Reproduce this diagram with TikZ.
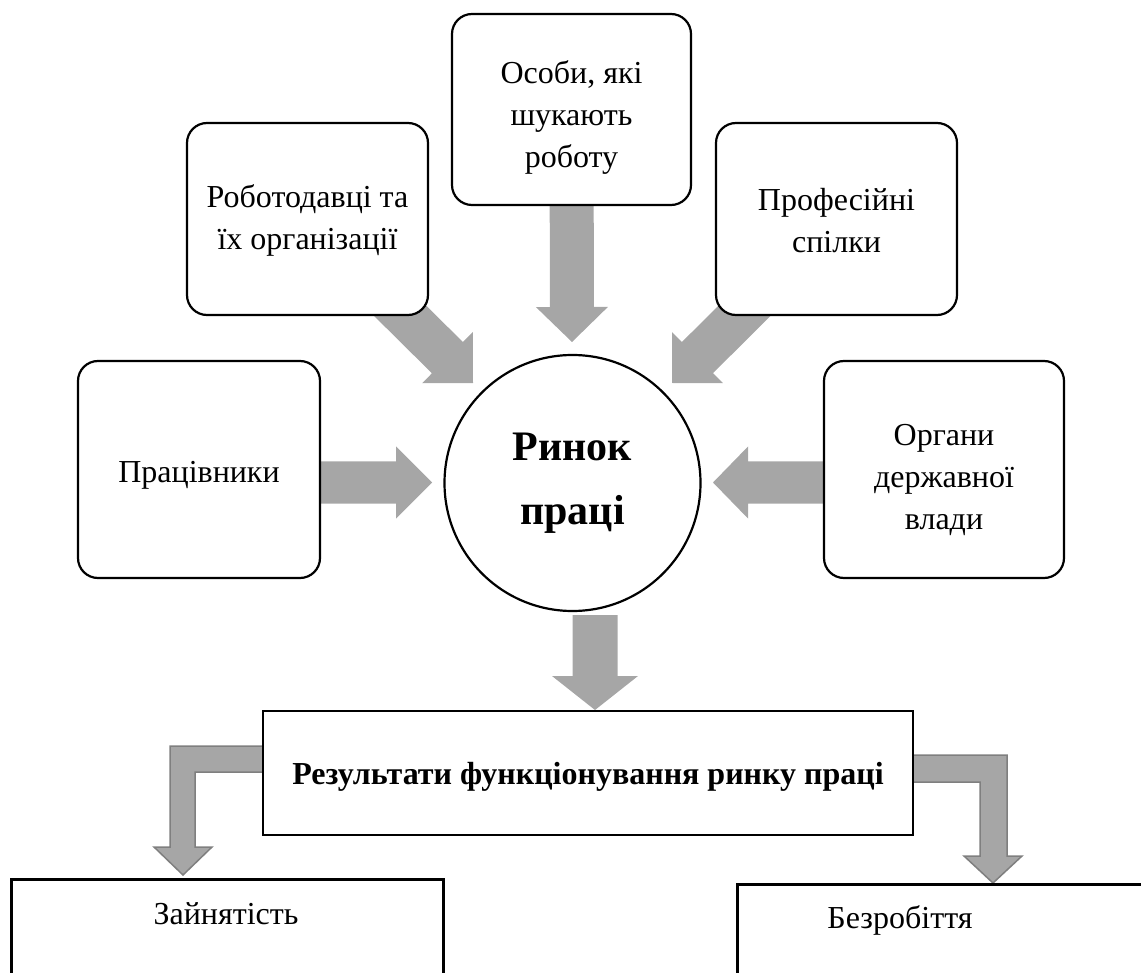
\documentclass[tikz,border=0pt]{standalone}
\usepackage{fontspec}
\setmainfont{Liberation Serif}
\usetikzlibrary{calc,backgrounds}
\definecolor{arrowgray}{RGB}{166,166,166}
\definecolor{edgegray}{RGB}{127,127,127}
% block arrow: #1 tail, #2 tip, #3 shaft half width, #4 head half width, #5 head length
\newcommand\blockarrow[5]{%
  \fill[arrowgray] let \p1=(#1), \p2=(#2), \n1={atan2(\y2-\y1,\x2-\x1)} in
    (\p2)
    -- ($(\p2)+({\n1+180}:#5pt)+({\n1+90}:#4pt)$)
    -- ($(\p2)+({\n1+180}:#5pt)+({\n1+90}:#3pt)$)
    -- ($(\p1)+({\n1+90}:#3pt)$)
    -- ($(\p1)+({\n1-90}:#3pt)$)
    -- ($(\p2)+({\n1+180}:#5pt)+({\n1-90}:#3pt)$)
    -- ($(\p2)+({\n1+180}:#5pt)+({\n1-90}:#4pt)$)
    -- cycle;}
\newcommand\lift[1]{\rule{0pt}{#1pt}}
\tikzset{
  rbox/.style={draw, line width=2.2pt, rounded corners=20pt, fill=white,
    align=center, inner sep=0pt, font=\fontsize{32}{42}\selectfont},
  sqbox/.style={draw, line width=2.2pt, fill=white, inner sep=0pt},
  plain/.style={font=\fontsize{32}{42}\selectfont, inner sep=0pt},
  elbow/.style={fill=arrowgray, draw=edgegray, line width=1.5pt, line join=miter}
}
\begin{document}
\begin{tikzpicture}[x=1pt,y=-1pt]
\useasboundingbox (0,0) rectangle (1141,973);
% boxes
\node[rbox, minimum width=239pt, minimum height=191pt] (top) at (571.5,109.5) {\lift{38}Особи, які\\шукають\\роботу};
\node[rbox, minimum width=241pt, minimum height=192pt] (ul) at (307.5,219) {\lift{26}Роботодавці та\\їх організації};
\node[rbox, minimum width=241pt, minimum height=192pt] (ur) at (836.5,219) {\lift{26}Професійні\\спілки};
\node[rbox, minimum width=242pt, minimum height=217pt] (wl) at (199,469.5) {\lift{32}Працівники};
\node[rbox, minimum width=240pt, minimum height=217pt] (wr) at (944,469.5) {\lift{42}Органи\\державної\\влади};
\node[draw, circle, line width=2.2pt, fill=white, minimum size=256pt, inner sep=0pt, align=center,
  font=\fontsize{42}{64}\selectfont\bfseries] (mkt) at (572.5,483) {Ринок\\праці};
\node[sqbox, minimum width=650pt, minimum height=124pt, font=\fontsize{32}{40}\selectfont\bfseries] (res) at (588,773)
  {\lift{30}Результати функціонування ринку праці};
\node[sqbox, line width=2.6pt, minimum width=432pt, minimum height=200pt, anchor=north west] (emp) at (10,878) {};
\node[plain] (empt) at (226,914) {Зайнятість};
\node[sqbox, line width=2.6pt, minimum width=500pt, minimum height=200pt, anchor=north west] (unemp) at (736,883) {};
\node[plain] (unempt) at (900,920) {Безробіття};
% arrow end points
\coordinate (tTop) at (572,342);
\coordinate (tUL) at (473,383);
\coordinate (tUR) at (672,383);
\coordinate (tL) at (432,482.5);
\coordinate (sL) at (300,482.5);
\coordinate (tR) at (713,482.5);
\coordinate (sR) at (845,482.5);
\coordinate (sB) at (595,615);
\coordinate (tB) at (595,710);
\begin{scope}[on background layer]
  \blockarrow{top.center}{tTop}{22}{36}{35}
  \blockarrow{ul.center}{tUL}{22}{36}{36}
  \blockarrow{ur.center}{tUR}{22}{36}{36}
  \blockarrow{sL}{tL}{21}{36}{36}
  \blockarrow{sR}{tR}{21}{36}{35}
  \blockarrow{sB}{tB}{22.5}{43}{34}
  % elbow arrows
  \draw[elbow] (275,746) -- (170,746) -- (170,847) -- (154,847) -- (183,875) -- (212,847)
     -- (195,847) -- (195,772) -- (275,772) -- cycle;
  \draw[elbow] (900,755) -- (1007,755) -- (1007,856) -- (1022,856) -- (993,883) -- (964,856)
     -- (980,856) -- (980,782) -- (900,782) -- cycle;
\end{scope}
\end{tikzpicture}
\end{document}
